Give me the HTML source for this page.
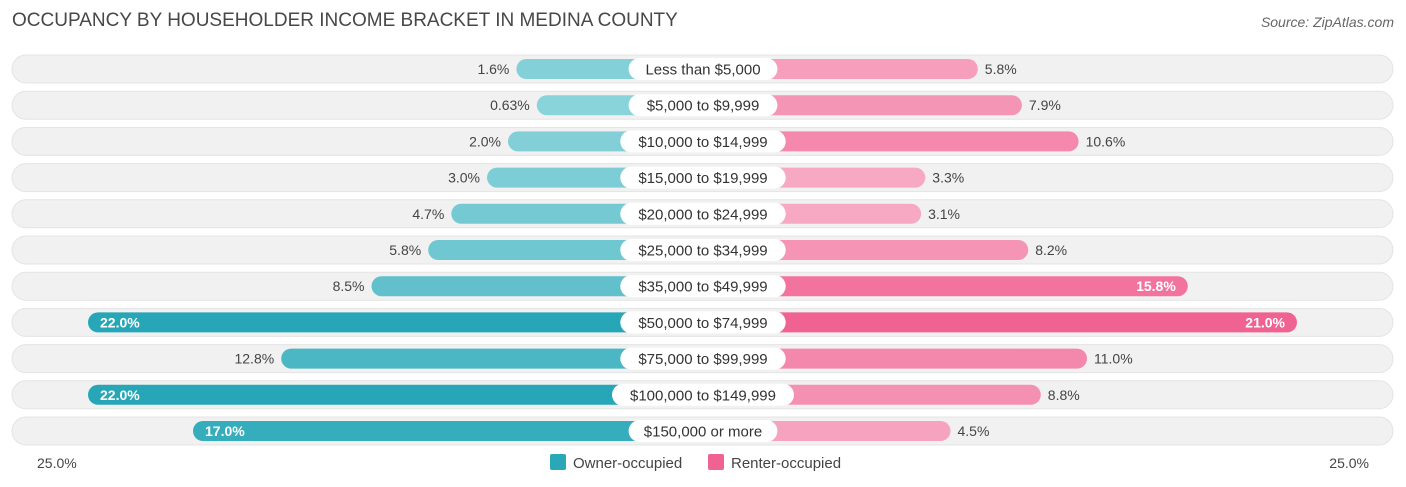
<!DOCTYPE html>
<html><head><meta charset="utf-8"><style>
body{margin:0;width:1406px;height:487px;background:#fff;font-family:"Liberation Sans",sans-serif;position:relative;overflow:hidden}
.t{position:absolute;white-space:nowrap}
</style></head><body>
<div class="t" style="left:12px;top:10px;font-size:19px;color:#474747">OCCUPANCY BY HOUSEHOLDER INCOME BRACKET IN MEDINA COUNTY</div>
<div class="t" style="right:12px;top:14px;font-size:14px;color:#666;font-style:italic">Source: ZipAtlas.com</div>
<svg id="c" width="1406" height="487" style="position:absolute;left:0;top:0"></svg>
<script>
const categories=["Less than $5,000","$5,000 to $9,999","$10,000 to $14,999","$15,000 to $19,999","$20,000 to $24,999","$25,000 to $34,999","$35,000 to $49,999","$50,000 to $74,999","$75,000 to $99,999","$100,000 to $149,999","$150,000 or more"];
const owner=[1.6,0.63,2.0,3.0,4.7,5.8,8.5,22.0,12.8,22.0,17.0];
const renter=[5.8,7.9,10.6,3.3,3.1,8.2,15.8,21.0,11.0,8.8,4.5];
const ownerLabels=["1.6%","0.63%","2.0%","3.0%","4.7%","5.8%","8.5%","22.0%","12.8%","22.0%","17.0%"];
const renterLabels=["5.8%","7.9%","10.6%","3.3%","3.1%","8.2%","15.8%","21.0%","11.0%","8.8%","4.5%"];
const svg=document.getElementById('c');const NS="http://www.w3.org/2000/svg";
const cx=703,y0=69,dy=36.2;
const w=v=>153+21*v;
function mix(a,b,t){return 'rgb('+a.map((x,i)=>Math.round(x+(b[i]-x)*t)).join(',')+')';}
function el(tag,attrs,name){const e=document.createElementNS(NS,tag);for(const k in attrs)e.setAttribute(k,attrs[k]);


svg.appendChild(e);return e;}
categories.forEach((c,i)=>{
 const y=y0+i*dy;
 el('rect',{x:12,y:y-14,width:1381,height:28,rx:14,fill:'#f1f1f1',stroke:'#e4e4e4'},'row-background');
 const ow=w(owner[i]),rw=w(renter[i]);
 el('rect',{x:cx-ow,y:y-10,width:ow,height:20,rx:10,fill:mix([140,212,220],[38,166,182],Math.min(1,owner[i]/20))},'owner-bar');
 el('rect',{x:cx,y:y-10,width:rw,height:20,rx:10,fill:mix([248,182,204],[240,98,146],Math.min(1,renter[i]/20))},'renter-bar');
 const tw=c.length*8.3+16;
 el('rect',{x:cx-tw/2,y:y-11,width:tw,height:22,rx:11,fill:'#fff'},'category-pill');
 const t=el('text',{x:cx,y:y+5.5,'text-anchor':'middle','font-size':15,fill:'#333'},'category-label');t.textContent=c;
 let ot;
 if(owner[i]>14){ot=el('text',{x:cx-ow+12,y:y+5,'font-size':14,fill:'#fff','font-weight':'bold'},'owner-value');}
 else{ot=el('text',{x:cx-ow-7,y:y+5,'text-anchor':'end','font-size':14,fill:'#444'},'owner-value');}
 ot.textContent=ownerLabels[i];
 let rt;
 if(renter[i]>14){rt=el('text',{x:cx+rw-12,y:y+5,'text-anchor':'end','font-size':14,fill:'#fff','font-weight':'bold'},'renter-value');}
 else{rt=el('text',{x:cx+rw+7,y:y+5,'font-size':14,fill:'#444'},'renter-value');}
 rt.textContent=renterLabels[i];
});
let a=el('text',{x:37,y:468,'font-size':14,fill:'#444'},'axis-left-label');a.textContent="25.0%";
a=el('text',{x:1369,y:468,'text-anchor':'end','font-size':14,fill:'#444'},'axis-right-label');a.textContent="25.0%";
el('rect',{x:550,y:454,width:16,height:16,rx:2,fill:'#2aa8b8'},'legend-owner-swatch');
a=el('text',{x:573,y:468,'font-size':15,fill:'#444'},'legend-owner-label');a.textContent="Owner-occupied";
el('rect',{x:708,y:454,width:16,height:16,rx:2,fill:'#f06292'},'legend-renter-swatch');
a=el('text',{x:731,y:468,'font-size':15,fill:'#444'},'legend-renter-label');a.textContent="Renter-occupied";
</script>
</body></html>
